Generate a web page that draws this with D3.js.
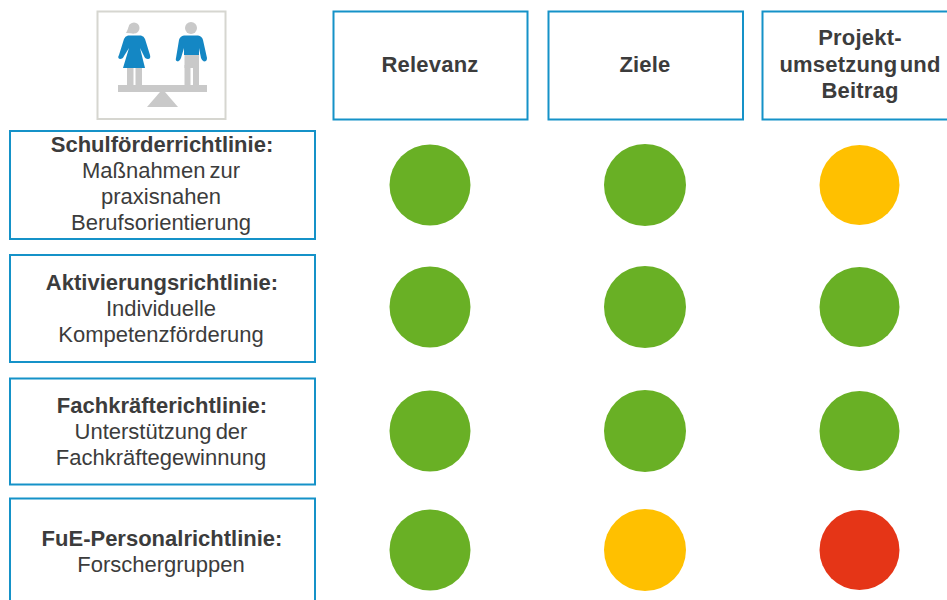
<!DOCTYPE html>
<html>
<head>
<meta charset="utf-8">
<script src="https://cdn.jsdelivr.net/npm/d3@7"></script>
<style>
html, body { margin: 0; padding: 0; background: #fff; overflow: hidden; }
text { font-family: "Liberation Sans", Arial, sans-serif; fill: #3c3c3c; text-anchor: middle; }
</style>
</head>
<body>
<svg id="chart" width="947" height="600"></svg>
<script>
var columns = ["Relevanz", "Ziele", "Projekt"];
var columnLabels = [["Relevanz"], ["Ziele"], ["Projekt-", "umsetzung und", "Beitrag"]];
var rows = ["Schul", "Aktivierung", "Fachkraefte", "FuE"];
var rowTitles = ["Schulförderrichtlinie:", "Aktivierungsrichtlinie:", "Fachkräfterichtlinie:", "FuE-Personalrichtlinie:"];
var rowLabels = [
    ["Maßnahmen zur", "praxisnahen", "Berufsorientierung"],
    ["Individuelle", "Kompetenzförderung"],
    ["Unterstützung der", "Fachkräftegewinnung"],
    ["Forschergruppen"]
];
var ratingRelevanz = ["gruen", "gruen", "gruen", "gruen"];
var ratingZiele = ["gruen", "gruen", "gruen", "gelb"];
var ratingProjekt = ["gelb", "gruen", "gruen", "rot"];

var svg = d3.select("#chart");
var blue = "#1592c8";

var color = d3.scaleOrdinal()
    .domain(["gruen", "gelb", "rot"])
    .range(["#69b025", "#ffc000", "#e53517"]);

// row and column centres
var x = d3.scaleOrdinal().domain(columns).range([430, 645, 859.5]);
var y = d3.scaleOrdinal().domain(rows).range([185, 307, 431, 550]);

// header boxes
var headBox = [[333.5, 194], [548.5, 194.5], [762.5, 200]];
columns.forEach(function(c, i) {
    svg.append("rect")
        .attr("x", headBox[i][0]).attr("y", 11.5)
        .attr("width", headBox[i][1]).attr("height", 108)
        .attr("fill", "none").attr("stroke", blue).attr("stroke-width", 2);

    var lines = columnLabels[i];
    svg.selectAll(null)
        .data(lines)
        .enter().append("text")
        .attr("x", x(c) + (i == 2 ? 0.5 : 0))
        .attr("y", function(d, j) { return 71.5 + (j - (lines.length - 1) / 2) * 26.5; })
        .style("font-size", "22px")
        .style("font-weight", "bold")
        .style("letter-spacing", "0.2px")
        .style("word-spacing", "-4px")
        .text(function(d) { return d; });
});

// row boxes
var rowBox = [[131, 108], [255, 107], [378.5, 106], [498.5, 110]];
rows.forEach(function(r, i) {
    svg.append("rect")
        .attr("x", 10).attr("y", rowBox[i][0])
        .attr("width", 305).attr("height", rowBox[i][1])
        .attr("fill", "none").attr("stroke", blue).attr("stroke-width", 2);
});

var rowTop = [152, 290, 413, 546];
rows.forEach(function(r, i) {
    svg.append("text")
        .attr("x", 162).attr("y", rowTop[i])
        .style("font-size", "22px")
        .style("font-weight", "bold")
        .text(rowTitles[i]);

    svg.selectAll(null)
        .data(rowLabels[i])
        .enter().append("text")
        .attr("x", 161)
        .attr("y", function(d, j) { return rowTop[i] + 26 * (j + 1); })
        .style("font-size", "22px")
        .style("word-spacing", "-2px")
        .text(function(d) { return d; });
});

// rating circles
var ratings = [ratingRelevanz, ratingZiele, ratingProjekt];
var radius = [40.5, 41, 40];
columns.forEach(function(c, i) {
    svg.append("g").selectAll("circle")
        .data(ratings[i])
        .enter().append("circle")
        .attr("cx", x(c))
        .attr("cy", function(d, j) { return y(rows[j]); })
        .attr("r", radius[i])
        .attr("fill", function(d) { return color(d); });
});

// icon with the two figures on the scale
var icon = svg.append("g");
var grey = "#c9c9c9", iconBlue = "#1487c4";
icon.append("rect")
    .attr("x", 97.5).attr("y", 11.5).attr("width", 128).attr("height", 107.5)
    .attr("fill", "#fff").attr("stroke", "#d6d6d0").attr("stroke-width", 2);
icon.append("rect").attr("x", 118).attr("y", 85).attr("width", 89).attr("height", 7).attr("fill", grey);
icon.append("path").attr("d", "M160,92 L147,107 L178,107 L165,92 Z").attr("fill", grey);

// woman
icon.append("circle").attr("cx", 134).attr("cy", 28).attr("r", 5.5).attr("fill", grey);
icon.append("path").attr("d", "M130,24 L127,31 L126,33 L134,33.500 Z").attr("fill", grey);
icon.append("rect").attr("x", 127).attr("y", 67).attr("width", 6.5).attr("height", 18).attr("fill", grey);
icon.append("rect").attr("x", 135.5).attr("y", 67).attr("width", 6.5).attr("height", 18).attr("fill", grey);
icon.append("path")
    .attr("d", "M128,35.500 L141,35.500 Q144,36 145,39 L150,55 Q151,59 148,59 Q145,59 144,56 L140,48 L145,68 L123,68 L129,48 L124,56 Q123,59 120,59 Q117,58 119,55 L124,39 Q125,36 128,35.500 Z")
    .attr("fill", iconBlue);

// man
icon.append("circle").attr("cx", 191).attr("cy", 28).attr("r", 6).attr("fill", grey);
icon.append("rect").attr("x", 184.5).attr("y", 54).attr("width", 14.5).attr("height", 14).attr("fill", grey);
icon.append("rect").attr("x", 184.5).attr("y", 65).attr("width", 6).attr("height", 20).attr("fill", grey);
icon.append("rect").attr("x", 193).attr("y", 65).attr("width", 6).attr("height", 20).attr("fill", grey);
icon.append("path")
    .attr("d", "M184,35.500 L198,35.500 Q202,36 203,40 L207,58 Q207,61.500 204,61.500 Q202,61 201,58 L199,48 L199,55 L184,55 L184,48 L181,58 Q180,61 178,61.500 Q175,61 176,58 L179,40 Q180,36 184,35.500 Z")
    .attr("fill", iconBlue);
</script>
</body>
</html>
